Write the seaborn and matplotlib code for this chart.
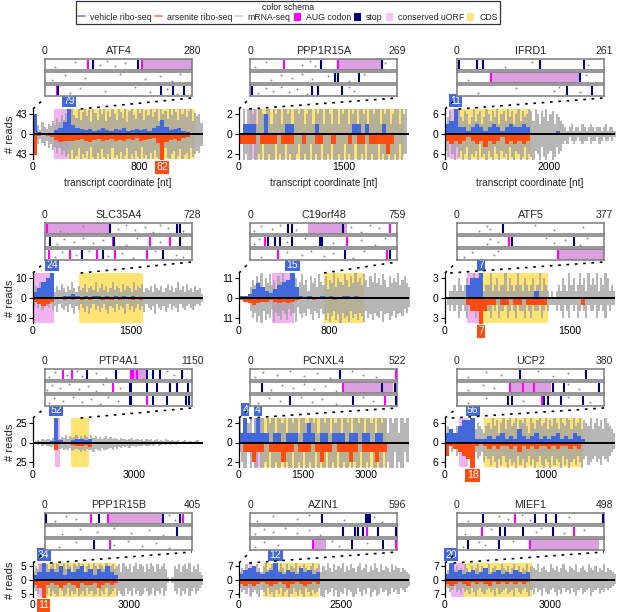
import numpy as np
import pandas as pd
import matplotlib
matplotlib.use("Agg")
import matplotlib.pyplot as plt
import seaborn as sns
from matplotlib.lines import Line2D
from matplotlib.patches import Patch

sns.set_theme(style="white")
plt.rcParams["font.family"] = ["Liberation Sans", "DejaVu Sans"]

# ---------------- data: read profiles ----------------
# mRNA-seq (gray) in 80 bins, ribo-seq (vehicle / arsenite) in 40 bins per transcript
ATF4_gray_up = [32,12,20,8,25,15,10,22,18,28, 20,35,25,40,30,45,50,28,54,40, 35,54,30,48,54,38,52,25,54,45, 30,54,42,54,28,50,36,54,44,30, 54,48,35,54,26,50,54,40,32,54, 46,54,30,52,40,54,36,48,54,28, 54,44,50,32,54,40,54,48,30,54, 42,54,36,50,54,28,46,38,44,24]
ATF4_gray_dn = [-38,-15,-22,-10,-20,-26,-14,-30,-22,-34, -28,-40,-30,-45,-36,-50,-42,-54,-35,-54, -48,-30,-54,-44,-52,-36,-54,-28,-50,-54, -40,-54,-32,-50,-54,-44,-54,-30,-52,-46, -54,-38,-54,-48,-30,-54,-44,-54,-36,-50, -54,-28,-52,-46,-54,-40,-54,-34,-50,-54, -42,-54,-30,-52,-54,-44,-36,-54,-48,-32, -54,-46,-40,-54,-30,-50,-44,-36,-40,-26]
ATF4_vehicle = [42,4,2,3,2,8,12,25,79,20, 12,10,8,10,6,8,12,9,7,10, 8,12,6,9,11,8,10,7,12,18, 30,14,8,10,12,6,4,3,2,1]
ATF4_arsenite = [-45,-5,-3,-4,-6,-12,-18,-15,-14,-16, -12,-10,-14,-18,-12,-10,-15,-12,-10,-14, -12,-16,-10,-12,-8,-14,-12,-10,-9,-20, -82,-18,-12,-10,-14,-8,-6,-3,-2,-1]

PPP1R15A_gray_up = [0,0,3,1,3,3,2,3,1,3, 3,2,1,3,3,1,3,2,3,3, 1,3,3,2,3,1,3,3,2,3, 3,1,2,3,3,1,3,2,3,3, 1,3,3,2,1,3,3,1,3,2, 3,3,1,3,2,3,1,3,3,2, 3,1,3,3,2,3,3,1,3,2, 3,3,1,2,3,3,1,3,2,3]
PPP1R15A_gray_dn = [0,-1,-3,-2,-3,-3,-1,-3,-3,-2, -3,-1,-3,-3,-2,-3,-3,-1,-3,-2, -3,-3,-1,-3,-2,-3,-3,-2,-1,-3, -3,-2,-3,-3,-1,-3,-2,-3,-3,-1, -3,-3,-2,-3,-1,-3,-3,-2,-3,-3, -1,-3,-2,-3,-3,-1,-3,-3,-2,-3, -1,-3,-3,-2,-3,-3,-1,-3,-2,-3, -3,-1,-3,-3,-2,-3,-1,-3,-2,-2]
PPP1R15A_vehicle = [0,1,1,1,0,0,2,0,0,0, 0,1,1,0,0,0,0,0,1,0, 0,0,0,0,0,0,0,1,1,0, 1,0,0,0,1,0,0,0,0,0]
PPP1R15A_arsenite = [-1,-1,-1,-1,0,-1,-1,-1,-1,0, -1,-1,-1,0,0,-1,0,0,-1,-1, 0,0,-1,0,0,0,-1,0,-1,-1, 0,-1,-1,-1,-1,-2,-1,0,0,0]

IFRD1_gray_up = [3,5,7,4,6,3,8,5,4,7, 6,3,5,8,4,6,7,3,5,8, 6,4,7,5,8,3,6,7,4,8, 5,7,3,6,8,4,7,5,6,8, 7,4,8,6,3,7,5,8,4,6, 7,3,6,5,4,3, 2,1,2,3,1,2,2,1,3,2, 1,2,3,2,1,2,2,1,2,3, 1,2,2,1]
IFRD1_gray_dn = [-5,-7,-3,-6,-8,-4,-7,-5,-8,-6, -4,-8,-6,-7,-5,-8,-3,-7,-6,-8, -5,-7,-8,-4,-6,-8,-5,-7,-6,-8, -4,-7,-8,-5,-6,-8,-7,-4,-8,-6, -7,-8,-5,-6,-8,-4,-7,-8,-6,-5, -8,-7,-4,-6,-5,-3, -2,-3,-1,-2,-3,-2,-1,-2,-3,-2, -2,-1,-3,-2,-2,-1,-3,-2,-1,-2, -2,-1,-2,-1]
IFRD1_vehicle = [3,4,11,2,2,1,2,3,2,1, 2,3,2,1,2,3,2,2,3,2, 0,0,0,0,0,0,1,0,0,0, 0,0,0,0,0,0,0,0,0,0]
IFRD1_arsenite = [-2,-3,-2,-3,-2,-1,-2,-3,-2,-4, -2,-3,-2,-1,-3,-2,-3,-2,-3,-2, 0,0,0,0,0,0,0,0,0,0, 0,0,0,0,0,0,0,0,0,0]

SLC35A4_gray_up = [3,6,4,8,5,7,6,9,5,7, 3,6,4,7,5,3,6,4,8,5, 3,6,4,5,7,3,5,6,4,8, 3,5,7,4,6,3,5,8,4,6, 5,3,7,4,6,5,3,8,4,6, 5,7,3,5,4,6,3,7,5,4, 6,3,5,7,4,6,3,5,8,4, 6,3,7,4,5,3,6,4,5,2]
SLC35A4_gray_dn = [-4,-2,-5,-3,-6,-2,-4,-5,-3,-6, -4,-7,-3,-5,-6,-4,-7,-3,-5,-8, -4,-6,-3,-5,-7,-4,-8,-5,-3,-6, -4,-7,-5,-3,-6,-8,-4,-5,-7,-3, -6,-4,-5,-8,-3,-6,-4,-7,-5,-3, -6,-4,-7,-3,-5,-6,-4,-8,-3,-5, -6,-4,-7,-5,-3,-6,-4,-5,-7,-3, -5,-6,-4,-3,-5,-6,-4,-3,-4,-2]
SLC35A4_vehicle = [3,5,8,10,24,0,0,1,1,2, 1,0,1,0,1,1,0,1,0,1, 0,1,0,1,0,0,0,0,0,0, 0,0,0,0,0,0,0,0,0,0]
SLC35A4_arsenite = [-2,-3,-4,-3,-2,0,0,-1,0,-1, 0,-1,0,-1,0,0,-1,0,-1,0, -1,0,0,-1,0,-1,0,0,0,0, 0,0,0,0,0,0,0,0,0,0]

C19orf48_gray_up = [0,0,0,0,0,6,10,7,12,9, 14,6,11,8,13,7,10,5,12,9, 14,7,10,6,12,8,11,5,9,13, 7,10,4,12,8,11,6,13,9,7, 12,5,10,8,14,6,11,9,7,13, 10,6,12,8,14,9,11,7,13,10, 6,12,9,14,8,11,7,13,10,6, 12,8,11,9,14,7,10,12,8,6]
C19orf48_gray_dn = [0,0,0,0,0,-7,-11,-8,-13,-10, -14,-7,-12,-9,-11,-6,-13,-8,-10,-12, -7,-9,-12,-6,-10,-8,-13,-5,-9,-11, -8,-10,-6,-9,-12,-7,-8,-11,-6,-9, -12,-8,-13,-10,-7,-12,-9,-14,-8,-11, -10,-13,-7,-11,-9,-12,-8,-10,-13,-7, -11,-9,-12,-8,-10,-11,-7,-13,-9,-8, -12,-10,-7,-11,-9,-8,-10,-6,-8,-5]
C19orf48_vehicle = [1,1,2,5,8,6,4,3,5,7, 9,10,15,6,1,0,1,0,0,1, 0,1,0,0,1,1,0,1,0,0, 0,0,0,0,0,0,0,0,0,0]
C19orf48_arsenite = [-1,-2,-3,-4,-3,-2,-2,-1,-2,-3, -2,-3,-2,-1,0,0,0,-1,0,0, 0,0,-1,0,0,0,0,0,0,0, 0,0,0,0,0,0,0,0,0,0]

ATF5_gray_up = [0,0,1,1,2,1,3,2,1,2, 3,1,2,4,2,1,2,3,1,2, 2,4,1,2,3,1,2,2,4,1, 3,2,1,2,4,2,1,3,2,1, 2,3,1,2,4,1,3,2,1,0, 1,0,1,2,1,3,2,1,4,2, 3,1,2,4,2,3,1,4,2,3, 2,4,1,3,2,4,3,1,2,1]
ATF5_gray_dn = [0,-1,-2,-1,-2,-1,-3,-2,-1,-2, -3,-1,-2,-2,-3,-1,-2,-3,-1,-2, -2,-3,-1,-2,-1,-3,-2,-2,-1,-3, -2,-1,-2,-3,-1,-2,-2,-3,-1,-2, -3,-1,-2,-2,-1,-3,-2,-1,-2,-1, -1,-1,-2,-1,-2,-3,-1,-2,-3,-1, -2,-1,-3,-2,-1,-2,-3,-1,-2,-2, -1,-3,-2,-1,-2,-3,-1,-2,-1,-1]
ATF5_vehicle = [0,0,0,0,0,2,3,3,7,0, 0,0,0,0,0,0,0,0,0,0, 0,1,0,0,0,0,0,0,0,0, 0,0,0,0,0,0,0,0,0,0]
ATF5_arsenite = [0,0,0,0,0,-1,-2,-2,-7,-2, -1,-1,0,-1,-1,0,-1,-1,0,-1, -1,-1,-1,-1,0,0,0,0,0,0, 0,0,-1,0,0,0,0,0,0,0]

PTP4A1_gray_up = [1,2,3,2,4,3,5,4,3,6, 5,8,4,7,6,9,5,8,6,7, 9,5,8,6,10,7,5,9,6,8, 5,7,4,6,8,5,7,4,6,5, 3,6,4,5,3,4,6,3,4,5, 3,4,2,5,3,4,2,3,4,2, 3,2,4,3,2,3,2,2,3,1, 2,3,1,2,2,1,2,3,1,1]
PTP4A1_gray_dn = [-1,-2,-3,-2,-4,-3,-5,-4,-6,-5, -7,-6,-8,-7,-9,-8,-10,-7,-11,-9, -8,-10,-12,-9,-11,-8,-10,-9,-12,-8, -9,-11,-7,-9,-10,-8,-7,-9,-6,-8, -6,-7,-5,-6,-5,-7,-4,-5,-6,-4, -5,-4,-3,-5,-4,-3,-4,-3,-2,-4, -3,-2,-3,-2,-3,-2,-2,-3,-1,-2, -2,-1,-2,-2,-1,-2,-1,-1,-2,-1]
PTP4A1_vehicle = [0,0,0,0,2,52,3,1,0,3, 5,4,3,4,1,0,0,0,0,0, 0,0,0,0,0,0,0,0,0,0, 0,0,0,0,0,0,0,0,0,0]
PTP4A1_arsenite = [0,0,0,0,-2,-10,-2,0,0,-3, -5,-4,-3,-6,-1,0,0,0,0,0, 0,0,0,0,0,0,0,0,0,0, 0,0,0,0,0,0,0,0,0,0]

PCNXL4_gray_up = [3,1,3,3,2,3,1,3,3,2, 3,3,1,3,2,3,3,1,3,3, 2,3,1,3,3,2,3,3,1,3, 3,2,1,3,3,2,3,1,3,3, 2,3,3,1,3,2,3,3,1,3, 3,2,3,1,3,3,2,3,3,1, 3,3,2,3,1,3,3,2,3,3, 1,3,2,3,3,1,3,3,2,3]
PCNXL4_gray_dn = [-1,-2,-3,-3,-1,-3,-2,-3,-3,-1, -3,-3,-2,-3,-1,-3,-3,-2,-3,-3, -1,-3,-2,-3,-3,-1,-3,-3,-2,-3, -1,-3,-3,-2,-3,-3,-1,-3,-2,-3, -3,-1,-3,-3,-2,-3,-1,-3,-3,-2, -3,-3,-1,-3,-2,-3,-3,-1,-3,-3, -2,-3,-1,-3,-3,-2,-3,-3,-1,-3, -2,-3,-3,-1,-3,-2,-3,-3,-1,-2]
PCNXL4_vehicle = [1,4,1,1,4,1,1,0,1,1, 0,1,1,1,0,1,2,1,0,1, 1,0,1,1,1,0,1,1,0,1, 1,0,1,1,0,0,0,0,0,0]
PCNXL4_arsenite = [0,-1,-1,-2,-1,-1,0,-1,-1,-1, -2,-1,-1,0,-1,-1,-1,0,-1,-2, -1,-1,0,-1,-1,-1,-2,-1,0,-1, -1,-1,-2,-1,-1,0,0,0,0,0]

UCP2_gray_up = [3,5,2,4,3,5,2,4,3,2, 4,3,5,3,4,6,5,4,3,5, 6,4,8,5,7,3,6,8,4,7, 9,5,6,8,4,7,6,9,5,3, 8,6,4,7,9,5,6,8,4,7, 5,9,6,4,8,6,5,9,7,4, 8,5,6,9,4,7,6,5,8,4, 6,9,5,7,4,8,6,5,4,3]
UCP2_gray_dn = [-2,-3,-1,-3,-2,-4,-3,-2,-4,-3, -5,-3,-4,-2,-3,-5,-4,-3,-6,-4, -5,-7,-4,-6,-8,-5,-7,-4,-6,-9, -5,-7,-6,-8,-4,-7,-5,-9,-6,-4, -7,-5,-8,-6,-4,-7,-9,-5,-6,-8, -4,-7,-5,-6,-8,-4,-7,-5,-9,-6, -5,-7,-4,-6,-8,-5,-4,-7,-6,-5, -4,-6,-5,-7,-4,-5,-6,-4,-3,-2]
UCP2_vehicle = [3,4,3,5,7,7,56,1,1,1, 2,1,2,3,1,2,1,4,2,1, 2,3,1,2,1,2,3,1,2,1, 3,2,1,0,0,0,0,0,0,0]
UCP2_arsenite = [-4,-1,-2,-3,-4,-5,-18,-1,0,-1, -2,-1,-2,-1,-1,-2,-1,-3,-1,-2, -1,-2,-1,-1,-2,-1,-2,-1,-1,-2, -1,-2,0,0,0,0,0,0,0,0]

PPP1R15B_gray_up = [3,5,4,6,3,5,6,4,5,7, 4,6,3,5,7,4,6,5,3,6, 5,7,4,6,3,5,6,4,7,5, 3,6,5,4,7,3,5,6,4,5, 6,3,7,5,4,6,3,5,7,4, 6,5,3,6,4,7,5,3,6,4, 5,7,4,1,0,1,5,4,6,3, 5,6,4,7,3,5,4,6,3,2]
PPP1R15B_gray_dn = [-3,-4,-5,-3,-6,-4,-5,-3,-6,-4, -5,-6,-3,-4,-6,-5,-3,-6,-4,-5, -3,-6,-5,-4,-6,-3,-5,-4,-6,-5, -3,-6,-4,-5,-3,-6,-5,-4,-3,-6, -4,-5,-6,-3,-5,-4,-6,-3,-5,-4, -6,-5,-3,-4,-6,-5,-3,-6,-4,-5, -3,-6,-4,-1,0,-1,-4,-5,-3,-6, -4,-5,-3,-6,-4,-3,-5,-4,-3,-2]
PPP1R15B_vehicle = [2,3,34,3,4,3,5,2,4,3, 4,5,3,4,2,4,3,5,3,2, 0,0,0,0,0,0,0,0,0,0, 0,0,0,0,0,0,0,0,0,0]
PPP1R15B_arsenite = [-2,-3,-11,-2,-1,-2,-3,-2,-1,-2, -3,-1,-2,-2,-1,-3,-2,-1,-2,-1, 0,0,0,0,0,0,0,0,0,0, 0,0,0,0,0,0,0,0,0,0]

AZIN1_gray_up = [4,6,5,8,6,4,7,5,8,6, 4,7,9,5,6,8,4,7,5,9, 6,4,8,5,7,6,9,4,7,5, 8,6,4,7,9,5,6,8,4,7, 5,9,6,4,8,5,7,6,9,4, 7,5,8,6,4,7,9,5,6,8, 4,7,5,9,6,4,8,5,7,6, 4,8,5,7,6,4,6,5,4,3]
AZIN1_gray_dn = [-4,-6,-5,-7,-4,-8,-6,-5,-7,-9, -5,-6,-8,-4,-7,-6,-9,-5,-7,-4, -8,-6,-5,-9,-7,-4,-6,-8,-5,-7, -9,-4,-6,-8,-5,-7,-6,-4,-8,-9, -5,-7,-6,-4,-8,-5,-9,-6,-7,-4, -8,-5,-6,-9,-7,-4,-6,-8,-5,-7, -4,-9,-6,-5,-8,-7,-4,-6,-5,-8, -7,-4,-6,-5,-7,-4,-5,-6,-4,-3]
AZIN1_vehicle = [3,5,6,7,4,3,4,5,12,4, 3,5,4,3,6,4,5,3,4,0, 0,0,0,0,0,0,0,0,0,0, 0,0,0,0,0,0,0,0,0,0]
AZIN1_arsenite = [-2,-3,-2,-3,-2,-1,-2,-3,-2,-1, -2,-4,-2,-1,-2,-3,-2,-1,-2,0, 0,0,0,0,0,0,0,0,0,0, 0,0,0,0,0,0,0,0,0,0]

MIEF1_gray_up = [3,5,4,6,5,7,4,6,5,8, 6,4,7,5,6,8,4,7,5,6, 8,4,6,7,5,4,8,6,5,7, 4,6,8,5,7,4,6,5,8,4, 7,6,5,8,4,6,7,5,4,8, 6,5,7,4,6,8,5,4,7,6, 5,8,4,6,7,5,4,8,6,5, 7,4,6,5,8,4,6,5,4,3]
MIEF1_gray_dn = [-3,-4,-6,-5,-3,-6,-5,-7,-4,-6, -5,-7,-4,-6,-8,-5,-4,-6,-7,-5, -4,-6,-5,-8,-4,-7,-6,-5,-4,-7, -6,-5,-8,-4,-6,-7,-5,-4,-6,-8, -5,-7,-4,-6,-5,-8,-4,-6,-7,-5, -4,-6,-8,-5,-7,-4,-6,-5,-7,-4, -6,-8,-5,-4,-7,-6,-5,-4,-8,-6, -5,-4,-7,-5,-6,-4,-5,-4,-3,-2]
MIEF1_vehicle = [3,20,4,5,3,4,5,3,4,6, 3,4,5,3,4,3,5,4,3,4, 0,0,0,0,0,0,0,0,0,0, 0,0,0,0,0,0,0,0,0,0]
MIEF1_arsenite = [-2,-3,-2,-1,-2,-3,-1,-2,-1,-2, -3,-1,-2,-1,-2,-1,-2,-1,-2,-1, 0,0,0,0,0,0,0,0,0,0, 0,0,0,0,0,0,0,0,0,0]

# ---------------- data: reading-frame tracks (codon coordinates) ----------------
ATF4_frames = [
    dict(aug=[86, 194], stop=[96, 186], orf=[(194, 294)], dots=[20, 60, 110, 125, 140, 160]),
    dict(aug=[], stop=[], orf=[], dots=[15, 40, 80, 150, 200, 230, 255, 270]),
    dict(aug=[24], stop=[27, 232, 256, 278], orf=[(22, 28)], dots=[50, 70, 120, 180, 210, 245, 265]),
]
PPP1R15A_frames = [
    dict(aug=[65, 169], stop=[136, 253], orf=[(169, 253)], dots=[10, 30, 100, 115, 125, 260]),
    dict(aug=[], stop=[163, 169, 209], orf=[], dots=[40, 60, 80, 100, 120, 150, 190, 220]),
    dict(aug=[], stop=[4, 119, 130, 176], orf=[], dots=[15, 30, 45, 60, 75, 90, 110, 190, 200]),
]
IFRD1_frames = [
    dict(aug=[], stop=[4, 38, 49, 154, 236], orf=[], dots=[90, 140, 245]),
    dict(aug=[64], stop=[229], orf=[(64, 229)], dots=[20, 240]),
    dict(aug=[], stop=[205, 251], orf=[], dots=[40, 110, 180, 190, 230]),
]
SLC35A4_frames = [
    dict(aug=[10], stop=[338, 686, 700], orf=[(10, 338)], dots=[80, 200, 380, 420, 470, 520, 560, 600, 640, 720]),
    dict(aug=[353, 546, 650], stop=[26, 360, 700], orf=[], dots=[60, 100, 150, 200, 250, 300, 420, 480, 600]),
    dict(aug=[21, 130, 270, 364, 530], stop=[192, 301, 613], orf=[], dots=[50, 90, 160, 230, 330, 400, 460, 570, 680, 720]),
]
C19orf48_frames = [
    dict(aug=[759], stop=[207, 228, 504], orf=[(316, 525)], dots=[20, 60, 120, 160, 250, 550, 600, 650, 700]),
    dict(aug=[80, 525], stop=[98, 136, 163, 228, 380, 390], orf=[], dots=[20, 50, 200, 300, 450, 600, 680, 730]),
    dict(aug=[152, 743], stop=[515, 759], orf=[], dots=[60, 200, 280, 330, 400, 450, 560, 620]),
]
ATF5_frames = [
    dict(aug=[], stop=[125], orf=[], dots=[60, 80, 90, 210, 260, 340]),
    dict(aug=[139], stop=[148, 315], orf=[], dots=[80, 90, 110, 240, 260, 290, 330, 350]),
    dict(aug=[271], stop=[], orf=[(271, 396)], dots=[20, 40, 100, 110]),
]
PTP4A1_frames = [
    dict(aug=[148, 222, 706, 723, 756], stop=[345, 583, 838, 888, 945, 1125], orf=[(698, 838)], dots=[30, 80, 180, 260, 300, 420, 500, 1000, 1060]),
    dict(aug=[559], stop=[698, 710, 838, 920, 1027, 1085, 1175], orf=[], dots=[20, 60, 120, 200, 280, 350, 420, 480, 620]),
    dict(aug=[838], stop=[698, 710, 888, 1000, 1160, 1180], orf=[], dots=[30, 70, 150, 230, 300, 380, 450, 520, 600]),
]
PCNXL4_frames = [
    dict(aug=[545], stop=[335], orf=[], dots=[20, 50, 100, 150, 200, 250, 300, 380, 420, 470]),
    dict(aug=[347], stop=[45, 492, 540], orf=[(347, 533)], dots=[80, 120, 160, 200, 240, 280, 320]),
    dict(aug=[503], stop=[149, 384, 545], orf=[], dots=[30, 70, 110, 190, 230, 270, 320, 420, 460]),
]
UCP2_frames = [
    dict(aug=[], stop=[172, 350], orf=[], dots=[30, 80, 120, 220, 260, 300]),
    dict(aug=[145, 180, 208], stop=[260, 290, 385], orf=[(145, 254)], dots=[30, 70, 100, 300, 330]),
    dict(aug=[232], stop=[139, 150, 235, 246, 281, 342], orf=[], dots=[30, 80, 180, 300, 360]),
]
PPP1R15B_frames = [
    dict(aug=[132, 183, 400], stop=[3, 157, 342, 390], orf=[(183, 342)], dots=[30, 60, 90, 360, 375]),
    dict(aug=[], stop=[381], orf=[], dots=[50, 100, 150, 200, 250, 300, 340]),
    dict(aug=[188], stop=[142], orf=[], dots=[40, 90, 200, 240, 280, 320, 360]),
]
AZIN1_frames = [
    dict(aug=[], stop=[307, 494, 501, 512], orf=[], dots=[30, 100, 200, 250, 400, 530, 560]),
    dict(aug=[498], stop=[396, 447, 460, 480, 545, 620], orf=[], dots=[20, 60, 100, 150, 200, 250, 300]),
    dict(aug=[268, 620], stop=[434, 566], orf=[(268, 324)], dots=[20, 60, 120, 350, 380, 500]),
]
MIEF1_frames = [
    dict(aug=[208], stop=[93, 279, 315, 351, 520], orf=[], dots=[40, 150, 180, 230, 260, 400]),
    dict(aug=[89, 416], stop=[154, 170, 233, 340], orf=[], dots=[30, 120, 280, 300, 380, 450]),
    dict(aug=[261], stop=[40, 150], orf=[(261, 505)], dots=[20, 80, 100, 200]),
]

GENES = [
    dict(name="ATF4", length=280, xmax=1283, span=1280, tick=43, xticks=[0, 800], uorf=(161, 262), cds=(262, 1225),
         up=ATF4_gray_up, dn=ATF4_gray_dn, blue=ATF4_vehicle, red=ATF4_arsenite, frames=ATF4_frames, zoom=0.28),
    dict(name="PPP1R15A", length=269, xmax=2429, span=2400, tick=2, xticks=[0, 1500], uorf=(157, 257), cds=(257, 2357),
         up=PPP1R15A_gray_up, dn=PPP1R15A_gray_dn, blue=PPP1R15A_vehicle, red=PPP1R15A_arsenite, frames=PPP1R15A_frames, zoom=0.06),
    dict(name="IFRD1", length=261, xmax=3270, span=3280, tick=6, xticks=[0, 2000], uorf=(77, 270), cds=(270, 1650),
         up=IFRD1_gray_up, dn=IFRD1_gray_dn, blue=IFRD1_vehicle, red=IFRD1_arsenite, frames=IFRD1_frames, zoom=0.08),
    dict(name="SLC35A4", length=728, xmax=2603, span=2600, tick=10, xticks=[0, 1500], uorf=(0, 320), cds=(710, 1685),
         up=SLC35A4_gray_up, dn=SLC35A4_gray_dn, blue=SLC35A4_vehicle, red=SLC35A4_arsenite, frames=SLC35A4_frames, zoom=0.28),
    dict(name="C19orf48", length=759, xmax=1511, span=1520, tick=11, xticks=[0, 800], uorf=(293, 486), cds=(756, 1111),
         up=C19orf48_gray_up, dn=C19orf48_gray_dn, blue=C19orf48_vehicle, red=C19orf48_arsenite, frames=C19orf48_frames, zoom=0.5),
    dict(name="ATF5", length=377, xmax=2040, span=2040, tick=3, xticks=[0, 1500], uorf=(264, 408), cds=(408, 1236),
         up=ATF5_gray_up, dn=ATF5_gray_dn, blue=ATF5_vehicle, red=ATF5_arsenite, frames=ATF5_frames, zoom=0.03),
    dict(name="PTP4A1", length=1150, xmax=5047, span=5040, tick=25, xticks=[0, 3000], uorf=(650, 800), cds=(1130, 1670),
         up=PTP4A1_gray_up, dn=PTP4A1_gray_dn, blue=PTP4A1_vehicle, red=PTP4A1_arsenite, frames=PTP4A1_frames, zoom=0.28),
    dict(name="PCNXL4", length=522, xmax=4010, span=4000, tick=2, xticks=[0, 1500, 3000], uorf=(354, 519), cds=(519, 3467),
         up=PCNXL4_gray_up, dn=PCNXL4_gray_dn, blue=PCNXL4_vehicle, red=PCNXL4_arsenite, frames=PCNXL4_frames, zoom=0.06),
    dict(name="UCP2", length=380, xmax=1680, span=1680, tick=6, xticks=[0, 1000], uorf=(139, 225), cds=(389, 1366),
         up=UCP2_gray_up, dn=UCP2_gray_dn, blue=UCP2_vehicle, red=UCP2_arsenite, frames=UCP2_frames, zoom=0.04),
    dict(name="PPP1R15B", length=405, xmax=5310, span=5320, tick=5, xticks=[0, 3000], uorf=(146, 302), cds=(302, 2600),
         up=PPP1R15B_gray_up, dn=PPP1R15B_gray_dn, blue=PPP1R15B_vehicle, red=PPP1R15B_arsenite, frames=PPP1R15B_frames, zoom=0.1),
    dict(name="AZIN1", length=596, xmax=4170, span=4200, tick=7, xticks=[0, 2500], uorf=(245, 320), cds=(578, 1960),
         up=AZIN1_gray_up, dn=AZIN1_gray_dn, blue=AZIN1_vehicle, red=AZIN1_arsenite, frames=AZIN1_frames, zoom=0.06),
    dict(name="MIEF1", length=498, xmax=4857, span=4880, tick=7, xticks=[0, 3000], uorf=(170, 540), cds=(540, 2490),
         up=MIEF1_gray_up, dn=MIEF1_gray_dn, blue=MIEF1_vehicle, red=MIEF1_arsenite, frames=MIEF1_frames, zoom=0.05),
]

# ---------------- style ----------------
BLUE = "#4169dc"
RED = "#ff4a10"
GRAY = "#a2a2a2"
MAG = "#ff00ff"
NAVY = "#00007f"
PINK = "#f3b3f0"
PINK_BOX = "#dca0e0"
YELLOW = "#ffe474"
FS = 7.5

W, H = 617, 612
fig = plt.figure(figsize=(W / 100, H / 100), dpi=100)


def ax_px(x0, y0, w, h):
    return fig.add_axes([x0 / W, 1 - (y0 + h) / H, w / W, h / H])


def fx(px):
    return px / W


def fy(py):
    return 1 - py / H


AX_LEFT = [33, 239, 445]
AX_W = 170
BOX_LEFT = [45, 250, 457]
BOX_W = 147
BOX_H = 11
ROW_AX = [(109, 159), (273, 323), (418, 467), (563, 597)]
ROW_BOX = [59, 223, 369, 513]
DOT_Y = [0.25, 0.7, 0.45, 0.85, 0.35, 0.6, 0.15, 0.8, 0.5]


def profile(ax, vals, span, color, alpha):
    n = len(vals)
    step = span / n
    df = pd.DataFrame({"pos": (np.arange(n) + 0.5) * step, "reads": np.asarray(vals, dtype=float)})
    sns.histplot(data=df, x="pos", weights="reads", binwidth=step, binrange=(0, span),
                 element="step", fill=True, color=color, alpha=alpha, linewidth=0, ax=ax)


for gi, g in enumerate(GENES):
    r, c = divmod(gi, 3)
    top, bot = ROW_AX[r]
    ax = ax_px(AX_LEFT[c], top, AX_W, bot - top)
    M = g["tick"]
    lim = 1.25 * M
    span = g["span"]
    bw = span / len(g["blue"])

    ax.axvspan(*g["uorf"], color=PINK, lw=0, zorder=0)
    ax.axvspan(*g["cds"], color=YELLOW, lw=0, zorder=0)

    profile(ax, g["up"], span, GRAY, 0.78)
    profile(ax, g["dn"], span, GRAY, 0.78)
    profile(ax, g["blue"], span, BLUE, 1.0)
    profile(ax, g["red"], span, RED, 1.0)

    ax.axhline(0, color="black", lw=1.4, zorder=5)
    ax.set_xlim(0, g["xmax"])
    ax.set_ylim(-lim, lim)
    ax.set_yticks([-M, 0, M])
    ax.set_yticklabels([str(M), "0", str(M)], fontsize=FS)
    ax.set_xticks(g["xticks"])
    ax.set_xticklabels([str(t) for t in g["xticks"]], fontsize=FS)
    ax.set_xlabel("")
    ax.set_ylabel("")
    for s in ["top", "right", "bottom"]:
        ax.spines[s].set_visible(False)
    ax.spines["left"].set_color("black")
    ax.spines["left"].set_linewidth(0.9)
    ax.tick_params(axis="y", left=True, length=3, width=0.8, pad=1.5, colors="black")
    ax.tick_params(axis="x", bottom=False, length=0, pad=2, colors="black")
    ax.patch.set_alpha(0)

    # clipped-peak labels
    for i, v in enumerate(g["blue"]):
        if v > lim:
            ax.annotate(str(v), xy=((i + 0.5) * bw, 1), xycoords=("data", "axes fraction"),
                        xytext=(0, 2.5), textcoords="offset points", ha="center", va="bottom",
                        color="white", fontsize=FS, annotation_clip=False, zorder=10,
                        bbox=dict(boxstyle="square,pad=0.12", fc=BLUE, ec="none"))
    for i, v in enumerate(g["red"]):
        if -v > lim:
            ax.annotate(str(-v), xy=((i + 0.5) * bw, 0), xycoords=("data", "axes fraction"),
                        xytext=(0, -2.5), textcoords="offset points", ha="center", va="top",
                        color="white", fontsize=FS, annotation_clip=False, zorder=10,
                        bbox=dict(boxstyle="square,pad=0.12", fc=RED, ec="none"))

    if c == 0:
        fig.text(fx(10), fy((top + bot) / 2), "# reads", rotation=90, ha="center",
                 va="center", fontsize=8)
    if r == 0:
        fig.text(fx(AX_LEFT[c] + AX_W / 2), fy(183), "transcript coordinate [nt]", ha="center",
                 va="center", fontsize=7.2)

    # reading-frame boxes
    L = g["length"]
    for k, fr in enumerate(g["frames"]):
        bx = ax_px(BOX_LEFT[c], ROW_BOX[r] + 13 * k, BOX_W, BOX_H)
        bx.set_xlim(0, L * 1.05)
        bx.set_ylim(0, 1)
        for a, b in fr["orf"]:
            bx.axvspan(a, b, color=PINK_BOX, lw=0, zorder=0)
        if fr["dots"]:
            ys = [DOT_Y[j % len(DOT_Y)] for j in range(len(fr["dots"]))]
            sns.scatterplot(x=fr["dots"], y=ys, color="#8a8aa0", s=2, linewidth=0, ax=bx, legend=False)
        if fr["aug"]:
            bx.vlines(fr["aug"], 0.06, 0.94, color=MAG, lw=1.5, zorder=3)
        if fr["stop"]:
            bx.vlines(fr["stop"], 0.06, 0.94, color=NAVY, lw=1.5, zorder=3)
        bx.set_xticks([])
        bx.set_yticks([])
        bx.set_xlabel("")
        bx.set_ylabel("")
        for s in bx.spines.values():
            s.set_visible(True)
            s.set_color("#7a7a7a")
            s.set_linewidth(1.1)

    ty = ROW_BOX[r] - 8
    fig.text(fx(BOX_LEFT[c]), fy(ty), "0", ha="center", va="center", fontsize=FS)
    fig.text(fx(BOX_LEFT[c] + BOX_W / 2), fy(ty), g["name"], ha="center", va="center", fontsize=7.8)
    fig.text(fx(BOX_LEFT[c] + BOX_W), fy(ty), str(L), ha="center", va="center", fontsize=FS)

    # zoom guide lines
    box_bottom = ROW_BOX[r] + 26 + BOX_H + 2
    ls = (0, (1.6, 3.4))
    fig.add_artist(Line2D([fx(AX_LEFT[c]), fx(BOX_LEFT[c])], [fy(top), fy(box_bottom)],
                          color="black", lw=1.2, linestyle=ls))
    fig.add_artist(Line2D([fx(AX_LEFT[c] + g["zoom"] * AX_W), fx(BOX_LEFT[c] + BOX_W)],
                          [fy(top), fy(box_bottom)], color="black", lw=1.2, linestyle=ls))

# ---------------- legend ----------------
handles = [
    Line2D([0], [0], color="#6f86c8", lw=1.2),
    Line2D([0], [0], color="#f07850", lw=1.2),
    Line2D([0], [0], color="#cfcfcf", lw=1.2),
    Patch(facecolor=MAG, edgecolor="none"),
    Patch(facecolor=NAVY, edgecolor="none"),
    Patch(facecolor="#f6c4f4", edgecolor="none"),
    Patch(facecolor="#fbe680", edgecolor="none"),
]
labels = ["vehicle ribo-seq", "arsenite ribo-seq", "mRNA-seq", "AUG codon", "stop",
          "conserved uORF", "CDS"]
LFS = 6.3
leg = fig.legend(handles, labels, ncol=7, loc="upper center", bbox_to_anchor=(fx(288), fy(0.5)),
                 title="color schema", fontsize=LFS, title_fontsize=LFS, frameon=True,
                 fancybox=False, edgecolor="black", handlelength=0.8, handleheight=1.1,
                 handletextpad=0.6, columnspacing=0.35, borderpad=0.25, labelspacing=0.1,
                 borderaxespad=0.0)
leg.get_frame().set_linewidth(0.9)

fig.savefig("out.png", dpi=100)
